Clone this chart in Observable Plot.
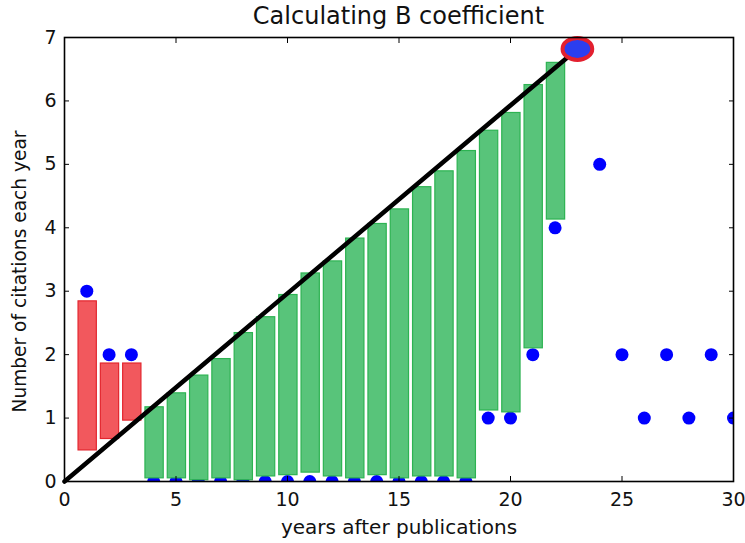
<!DOCTYPE html>
<html>
<head>
<meta charset="utf-8">
<script src="https://cdn.jsdelivr.net/npm/d3@7"></script>
<script src="https://cdn.jsdelivr.net/npm/@observablehq/plot@0.6"></script>
<style>
  body { margin: 0; background: #fff; font-family: "DejaVu Sans", sans-serif; }
  #title { width: 669px; margin-left: 64px; height: 30px; text-align: center;
           font-size: 24px; line-height: 33px; color: #111; white-space: nowrap; }
</style>
</head>
<body>
<div id="title">Calculating B coefficient</div>
<div id="chart"></div>
<script>
// Citations received in each year after publication
const years = d3.range(1, 31);
const citations = [3, 2, 2, 0, 0, 0, 0, 0, 0, 0, 0, 0, 0, 0, 0, 0, 0, 0, 1, 1, 2, 4, 6.82, 5, 2, 1, 2, 1, 2, 1];

// Reference line from the origin to the citation peak
const lineYears = [0, 23];
const lineValues = [0, 6.82];
const peakYear = 23;
const peakValue = 6.82;

// Years above the line (red) and below it (green): bar extents
const redYears = [1, 2, 3];
const redTop = [2.84, 1.86, 1.86];
const redBottom = [0.49, 0.67, 0.96];

const greenYears = d3.range(4, 23);
const greenTop = [1.17, 1.39, 1.67, 1.93, 2.34, 2.59, 2.94, 3.28, 3.47, 3.83, 4.06, 4.29, 4.64, 4.89, 5.21, 5.53, 5.81, 6.25, 6.60];
const greenBottom = [0.05, 0.05, 0.02, 0.05, 0.02, 0.08, 0.10, 0.14, 0.08, 0.05, 0.10, 0.05, 0.08, 0.08, 0.05, 1.12, 1.09, 2.10, 4.13];

// Axis ticks
const xTicks = [0, 5, 10, 15, 20, 25, 30];
const yTicks = [0, 1, 2, 3, 4, 5, 6, 7];

const points = years.map((t, i) => ({t, c: citations[i]}));
const redBars = redYears.map((t, i) => ({t, top: redTop[i], bottom: redBottom[i]}));
const greenBars = greenYears.map((t, i) => ({t, top: greenTop[i], bottom: greenBottom[i]}));
const line = lineYears.map((t, i) => ({t, c: lineValues[i]}));

// Ellipse symbol for the peak marker
const ellipse = {
  draw(context, size) {
    const r = Math.sqrt(size / Math.PI);
    const rx = r * 1.35, ry = r, k = 0.5523;
    const kx = rx * k, ky = ry * k;
    context.moveTo(rx, 0);
    context.bezierCurveTo(rx, ky, kx, ry, 0, ry);
    context.bezierCurveTo(-kx, ry, -rx, ky, -rx, 0);
    context.bezierCurveTo(-rx, -ky, -kx, -ry, 0, -ry);
    context.bezierCurveTo(kx, -ry, rx, -ky, rx, 0);
    context.closePath();
  }
};

const barX1 = d => d.t - 0.37;
const barX2 = d => d.t + 0.45;

const chart = Plot.plot({
  width: 745,
  height: 513,
  marginLeft: 64,
  marginRight: 12,
  marginTop: 7,
  marginBottom: 62,
  style: {fontFamily: "DejaVu Sans, sans-serif", fontSize: "19px", color: "#111", background: "white", overflow: "visible"},
  x: {domain: [0, 30], label: null},
  y: {domain: [0, 7], label: null},
  marks: [
    Plot.dot(points, {x: "t", y: "c", r: 6.5, fill: "#0000ff", clip: true}),
    Plot.rect(redBars, {x1: barX1, x2: barX2, y1: "bottom", y2: "top", fill: "#f2585d", stroke: "#e3262e", strokeWidth: 1.2}),
    Plot.rect(greenBars, {x1: barX1, x2: barX2, y1: "bottom", y2: "top", fill: "#58c47a", stroke: "#2db352", strokeWidth: 1.2}),
    Plot.line(line, {x: "t", y: "c", stroke: "black", strokeWidth: 4.5}),
    Plot.dot([{t: peakYear, c: peakValue}], {x: "t", y: "c", r: 11, symbol: ellipse, fill: "#2b3ef0", stroke: "#e3202f", strokeWidth: 4}),
    Plot.frame({stroke: "black", strokeWidth: 1.6}),
    Plot.axisX({anchor: "bottom", ticks: xTicks, tickFormat: "d", tickSize: -5, tickPadding: 16, stroke: "black", fontSize: 19, label: null}),
    Plot.axisX({anchor: "top", ticks: xTicks, tickSize: -5, tickFormat: () => "", stroke: "black", label: null}),
    Plot.axisY({anchor: "left", ticks: yTicks, tickFormat: "d", tickSize: -5, tickPadding: 13, stroke: "black", fontSize: 19, label: null}),
    Plot.axisY({anchor: "right", ticks: yTicks, tickSize: -5, tickFormat: () => "", stroke: "black", label: null}),
    Plot.text(["years after publications"], {frameAnchor: "bottom", dy: 52, fontSize: 20, fill: "#111"}),
    Plot.text(["Number of citations each year"], {frameAnchor: "left", textAnchor: "middle", rotate: -90, dx: -44, dy: 12, fontSize: 18.6, fill: "#111"})
  ]
});

document.getElementById("chart").appendChild(chart);
</script>
</body>
</html>
